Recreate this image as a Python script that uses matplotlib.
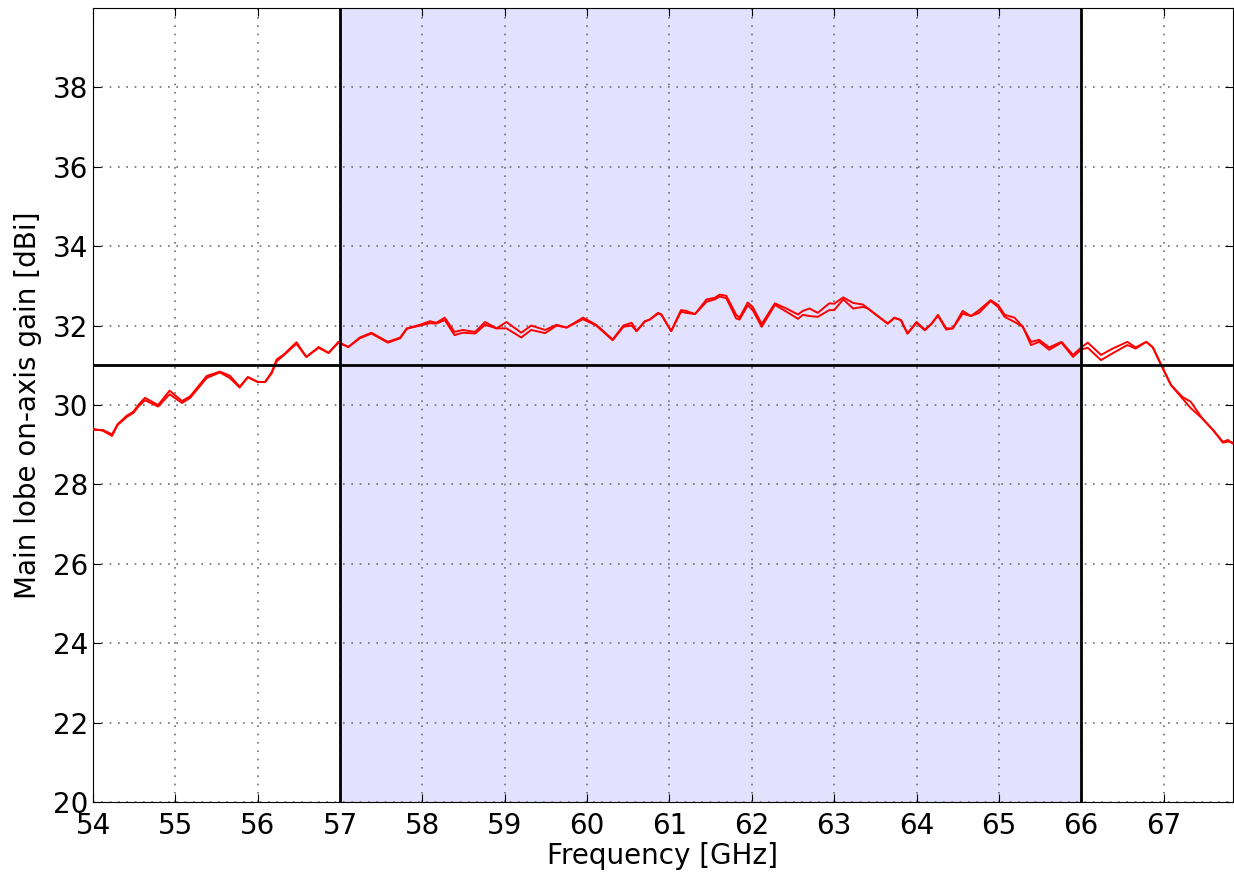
import matplotlib
matplotlib.use("Agg")
from matplotlib import pyplot as plt

# frequency grid [GHz] and the two measured gain traces [dBi]
freq = [54.00, 54.12, 54.23, 54.30, 54.41, 54.49, 54.55, 54.63, 54.79, 54.93,
        55.08, 55.18, 55.38, 55.54, 55.66, 55.78, 55.88, 56.00, 56.09, 56.17,
        56.23, 56.31, 56.47, 56.59, 56.74, 56.86, 56.98, 57.10, 57.24, 57.38,
        57.58, 57.73, 57.81, 57.97, 58.09, 58.17, 58.27, 58.39, 58.49, 58.64,
        58.76, 58.90, 59.02, 59.20, 59.32, 59.49, 59.63, 59.75, 59.95, 60.11,
        60.31, 60.44, 60.54, 60.60, 60.70, 60.76, 60.86, 60.90, 61.02, 61.14,
        61.20, 61.31, 61.45, 61.55, 61.61, 61.69, 61.81, 61.85, 61.95, 62.01,
        62.12, 62.28, 62.42, 62.56, 62.62, 62.70, 62.80, 62.94, 63.00, 63.11,
        63.23, 63.35, 63.41, 63.51, 63.65, 63.73, 63.81, 63.89, 64.00, 64.10,
        64.18, 64.26, 64.36, 64.44, 64.56, 64.66, 64.76, 64.90, 64.99, 65.07,
        65.19, 65.29, 65.39, 65.49, 65.61, 65.76, 65.90, 66.00, 66.08, 66.24,
        66.38, 66.56, 66.66, 66.79, 66.87, 66.97, 67.09, 67.23, 67.33, 67.47,
        67.60, 67.72, 67.78, 67.84]

gain_a = [29.37, 29.37, 29.26, 29.52, 29.73, 29.83, 30.00, 30.18, 30.00, 30.36,
          30.10, 30.22, 30.73, 30.84, 30.74, 30.46, 30.70, 30.58, 30.58, 30.83,
          31.15, 31.26, 31.58, 31.21, 31.46, 31.31, 31.59, 31.46, 31.70, 31.82,
          31.59, 31.70, 31.93, 32.02, 32.11, 32.07, 32.20, 31.84, 31.89, 31.84,
          32.09, 31.93, 32.09, 31.82, 32.00, 31.89, 32.02, 31.95, 32.20, 32.02,
          31.65, 32.00, 32.07, 31.86, 32.11, 32.15, 32.32, 32.28, 31.86, 32.39,
          32.37, 32.29, 32.66, 32.70, 32.78, 32.75, 32.27, 32.20, 32.58, 32.47,
          32.04, 32.56, 32.43, 32.28, 32.37, 32.43, 32.32, 32.56, 32.55, 32.71,
          32.57, 32.53, 32.43, 32.27, 32.05, 32.20, 32.14, 31.80, 32.09, 31.90,
          32.04, 32.27, 31.93, 31.93, 32.37, 32.24, 32.39, 32.64, 32.52, 32.27,
          32.20, 31.97, 31.59, 31.64, 31.45, 31.59, 31.26, 31.45, 31.57, 31.26,
          31.42, 31.59, 31.45, 31.59, 31.45, 31.01, 30.50, 30.20, 30.08, 29.66,
          29.37, 29.07, 29.12, 29.03]

gain_b = [29.40, 29.35, 29.22, 29.50, 29.70, 29.80, 29.96, 30.12, 29.96, 30.27,
          30.05, 30.18, 30.68, 30.82, 30.68, 30.44, 30.70, 30.58, 30.58, 30.80,
          31.10, 31.24, 31.54, 31.21, 31.44, 31.31, 31.57, 31.46, 31.68, 31.80,
          31.57, 31.68, 31.92, 32.00, 32.06, 32.05, 32.14, 31.76, 31.82, 31.80,
          32.02, 31.93, 31.93, 31.70, 31.89, 31.81, 32.00, 31.95, 32.16, 32.00,
          31.63, 31.97, 32.00, 31.86, 32.10, 32.15, 32.30, 32.28, 31.86, 32.35,
          32.32, 32.29, 32.60, 32.66, 32.73, 32.69, 32.18, 32.15, 32.51, 32.39,
          31.97, 32.52, 32.35, 32.17, 32.27, 32.24, 32.22, 32.39, 32.39, 32.66,
          32.43, 32.47, 32.43, 32.27, 32.05, 32.19, 32.14, 31.80, 32.07, 31.88,
          32.04, 32.25, 31.90, 31.93, 32.30, 32.24, 32.32, 32.62, 32.47, 32.22,
          32.09, 31.97, 31.51, 31.59, 31.39, 31.57, 31.21, 31.40, 31.44, 31.13,
          31.30, 31.51, 31.42, 31.59, 31.45, 31.01, 30.50, 30.16, 29.92, 29.66,
          29.37, 29.05, 29.08, 29.05]

band = (57, 66)
gain_limit = 31
xticks = list(range(54, 68))
yticks = list(range(20, 40, 2))

fig = plt.figure(figsize=(12.34, 8.76), dpi=100)
ax = fig.add_axes([0.0754, 0.0845, 0.9236, 0.9064])

ax.axvspan(band[0], band[1], facecolor='#e2e2ff', edgecolor='none', zorder=0)
ax.plot(freq, gain_a, color='r', lw=1.4, zorder=3)
ax.plot(freq, gain_b, color='r', lw=1.4, zorder=3)
ax.axhline(gain_limit, color='k', lw=2, zorder=4)
ax.axvline(band[0], color='k', lw=2, zorder=4)
ax.axvline(band[1], color='k', lw=2, zorder=4)

ax.set_xlim(54, 67.84)
ax.set_ylim(20, 40)
ax.set_xticks(xticks)
ax.set_yticks(yticks)
ax.grid(True, linestyle=(0, (1, 4)), color='#707070', lw=1.2)
ax.set_axisbelow(True)
ax.tick_params(direction='in', labelsize=20, length=6, top=True, right=True)
ax.tick_params(axis='x', pad=7)
ax.set_xlabel('Frequency [GHz]', fontsize=20, labelpad=2)
ax.set_ylabel('Main lobe on-axis gain [dBi]', fontsize=20, labelpad=8)

fig.savefig('out.png', dpi=100, facecolor='white')
